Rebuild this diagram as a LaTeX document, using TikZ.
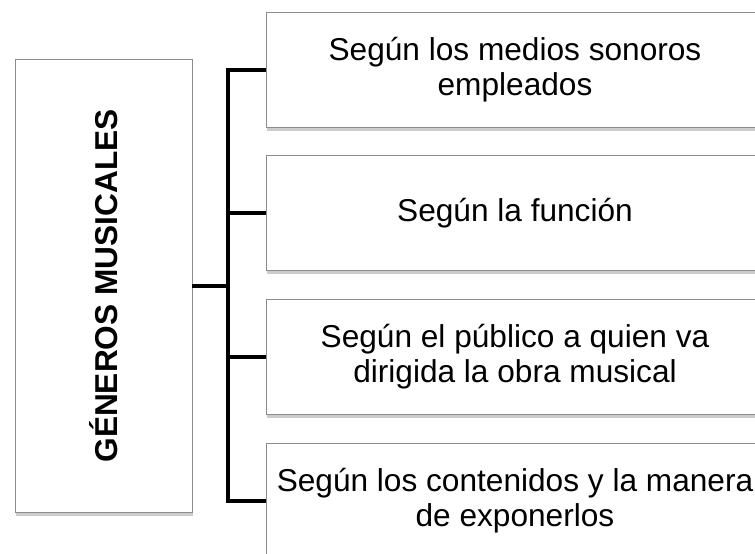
\documentclass[tikz,border=0pt]{standalone}
\usepackage{fontspec}
\setmainfont{Liberation Sans}
\usetikzlibrary{shadows}

\begin{document}
\begin{tikzpicture}[x=0.02cm, y=-0.02cm,
    caja/.style={draw=black!45, fill=white, line width=0.5pt, align=center,
      drop shadow={shadow xshift=0.4pt, shadow yshift=-2pt, opacity=0.4},
      font=\fontsize{18}{20}\selectfont},
    rama/.style={line width=0.08cm}]
    \path[use as bounding box, clip] (0,0) rectangle (755,554);
    \node (generos) [caja, minimum width=3.54cm, minimum height=9.06cm] at (103.5,286) {};
    \node (titulo) [rotate=90, font=\fontsize{18}{20}\selectfont\bfseries] at (generos.center) {GÉNEROS MUSICALES};
    \foreach \y/\texto [count=\i] in {70/{Según los medios sonoros\\empleados},
        213/{Según la función},
        357/{Según el público a quien va\\dirigida la obra musical},
        501/{Según los contenidos y la manera\\de exponerlos}}
      \node (b\i) [caja, minimum width=9.96cm, minimum height=2.3cm] at (515,\y) {\texto};
    % llaves
    \coordinate (nudo) at (228,286);
    \draw[rama] (generos.east) -- (nudo);
    \foreach \i in {1,...,4}
      \draw[rama] (nudo) |- (b\i.west);
\end{tikzpicture}
\end{document}
